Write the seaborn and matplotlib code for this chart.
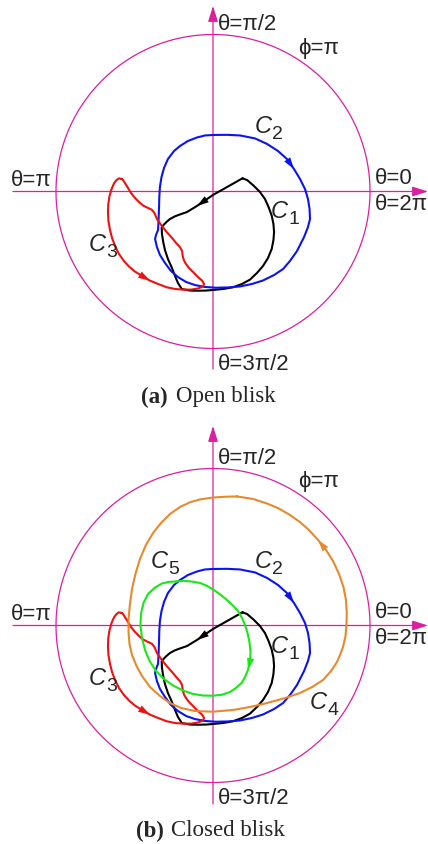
import numpy as np
import matplotlib
matplotlib.use("Agg")
import matplotlib.pyplot as plt
import seaborn as sns

sns.set_theme(style="white")
plt.rcParams["font.family"] = ["Liberation Sans", "DejaVu Sans"]

# Phase-plane trajectories, in units of the boundary circle radius (phi = pi),
# listed in the direction of travel.
c1_x = [0.188, 0.000, -0.102, -0.166, -0.210, -0.242, -0.274, -0.296, -0.315, -0.327, -0.325,
        -0.317, -0.306, -0.287, -0.264, -0.242, -0.223, -0.199, -0.146, -0.096, -0.045, 0.002,
        0.064, 0.127, 0.185, 0.236, 0.280, 0.318, 0.350, 0.374, 0.385, 0.389, 0.385, 0.374,
        0.354, 0.331, 0.299, 0.258, 0.217]
c1_y = [0.084, -0.022, -0.092, -0.131, -0.146, -0.158, -0.175, -0.194, -0.213, -0.229, -0.271,
        -0.322, -0.373, -0.430, -0.481, -0.538, -0.583, -0.621, -0.631, -0.632, -0.631, -0.627,
        -0.621, -0.610, -0.589, -0.561, -0.519, -0.475, -0.424, -0.366, -0.309, -0.258, -0.207,
        -0.154, -0.099, -0.048, -0.003, 0.038, 0.073]

c2_x = [0.000, 0.089, 0.172, 0.268, 0.344, 0.414, 0.471, 0.516, 0.554, 0.586, 0.605, 0.615,
        0.618, 0.605, 0.580, 0.535, 0.490, 0.446, 0.389, 0.318, 0.248, 0.172, 0.096, 0.019,
        -0.051, -0.115, -0.172, -0.223, -0.268, -0.306, -0.338, -0.357, -0.369, -0.363, -0.350,
        -0.347, -0.344, -0.342, -0.338, -0.328, -0.312, -0.287, -0.248, -0.210, -0.159, -0.102,
        -0.051]
c2_y = [0.360, 0.361, 0.357, 0.338, 0.303, 0.258, 0.207, 0.143, 0.080, 0.016, -0.048, -0.111,
        -0.175, -0.226, -0.290, -0.379, -0.443, -0.494, -0.532, -0.567, -0.589, -0.605, -0.611,
        -0.613, -0.608, -0.596, -0.576, -0.545, -0.506, -0.455, -0.404, -0.354, -0.303, -0.277,
        -0.245, -0.188, -0.111, -0.035, 0.029, 0.092, 0.150, 0.207, 0.258, 0.290, 0.322, 0.344,
        0.357]

c3_x = [-0.582, -0.599, -0.615, -0.631, -0.646, -0.659, -0.667, -0.669, -0.666, -0.656, -0.643,
        -0.624, -0.599, -0.567, -0.535, -0.497, -0.452, -0.401, -0.350, -0.295, -0.242, -0.191,
        -0.140, -0.096, -0.064, -0.057, -0.070, -0.096, -0.124, -0.153, -0.172, -0.185, -0.193,
        -0.197, -0.210, -0.232, -0.261, -0.295, -0.328, -0.357, -0.373, -0.390, -0.420, -0.446,
        -0.471, -0.497, -0.522, -0.541, -0.561, -0.573]
c3_y = [0.080, 0.084, 0.073, 0.051, 0.016, -0.029, -0.080, -0.131, -0.188, -0.245, -0.296,
        -0.347, -0.398, -0.443, -0.478, -0.510, -0.538, -0.568, -0.589, -0.610, -0.621, -0.625,
        -0.625, -0.618, -0.605, -0.589, -0.567, -0.545, -0.516, -0.487, -0.462, -0.439, -0.411,
        -0.379, -0.355, -0.331, -0.296, -0.258, -0.217, -0.175, -0.137, -0.116, -0.102, -0.089,
        -0.067, -0.041, -0.010, 0.022, 0.054, 0.073]

c4_x = [0.153, 0.076, 0.000, -0.083, -0.146, -0.210, -0.274, -0.331, -0.382, -0.427, -0.465,
        -0.494, -0.516, -0.529, -0.538, -0.538, -0.532, -0.516, -0.487, -0.452, -0.401, -0.338,
        -0.274, -0.204, -0.115, 0.000, 0.127, 0.236, 0.344, 0.459, 0.554, 0.631, 0.701, 0.752,
        0.790, 0.809, 0.828, 0.844, 0.850, 0.852, 0.847, 0.831, 0.803, 0.764, 0.720, 0.669,
        0.611, 0.554, 0.490, 0.420, 0.344, 0.255]
c4_y = [0.822, 0.820, 0.815, 0.803, 0.785, 0.755, 0.710, 0.653, 0.589, 0.513, 0.424, 0.328,
        0.232, 0.137, 0.041, -0.041, -0.118, -0.188, -0.258, -0.322, -0.392, -0.449, -0.494,
        -0.525, -0.545, -0.549, -0.538, -0.519, -0.494, -0.462, -0.430, -0.392, -0.347, -0.290,
        -0.232, -0.188, -0.137, -0.067, 0.003, 0.080, 0.162, 0.245, 0.328, 0.411, 0.481, 0.545,
        0.608, 0.659, 0.704, 0.745, 0.777, 0.806]

c5_x = [-0.236, -0.191, -0.134, -0.083, -0.038, 0.006, 0.051, 0.089, 0.127, 0.159, 0.185, 0.204,
        0.220, 0.232, 0.239, 0.236, 0.223, 0.204, 0.182, 0.146, 0.108, 0.057, 0.000, -0.064,
        -0.127, -0.191, -0.255, -0.312, -0.363, -0.404, -0.433, -0.452, -0.462, -0.459, -0.443,
        -0.414, -0.369, -0.325, -0.280]
c5_y = [0.280, 0.285, 0.280, 0.271, 0.252, 0.226, 0.194, 0.162, 0.127, 0.092, 0.048, 0.003,
        -0.048, -0.105, -0.169, -0.226, -0.283, -0.328, -0.366, -0.398, -0.424, -0.441, -0.447,
        -0.446, -0.436, -0.414, -0.382, -0.341, -0.290, -0.226, -0.156, -0.080, -0.003, 0.073,
        0.143, 0.201, 0.242, 0.268, 0.278]

# name -> (x, y, colour, index of the point the direction arrow points at)
curves = {
    "C1": (c1_x, c1_y, "black", 2),
    "C2": (c2_x, c2_y, "#0a14f0", 7),
    "C3": (c3_x, c3_y, "#f01010", 17),
    "C4": (c4_x, c4_y, "#e8892e", 45),
    "C5": (c5_x, c5_y, "#18e818", 16),
}
panels = [("(a)", "Open blisk", ["C1", "C2", "C3"]),
          ("(b)", "Closed blisk", ["C1", "C2", "C3", "C4", "C5"])]

MAGENTA = "#dc1ea0"
W, H = 428, 845
PX = 157.0  # pixels per unit radius
fig = plt.figure(figsize=(W / 100, H / 100), dpi=100)

# panel layout in pixels: (top, bottom, centre y)
frames = [(0, 420, 192.5), (420, 845, 626.5)]
CX = 213.0

label_pos = {
    0: {"C1": (273, 202), "C2": (257, 117), "C3": (91, 235)},
    1: {"C1": (273, 637), "C2": (257, 552), "C3": (91, 669), "C4": (312, 693), "C5": (153, 552)},
}

for k, ((tag, name, keys), (top, bot, cy)) in enumerate(zip(panels, frames)):
    ax = fig.add_axes([0, 1 - bot / H, 1, (bot - top) / H])
    ax.set_xlim((0 - CX) / PX, (W - CX) / PX)
    ax.set_ylim((cy - bot) / PX, (cy - top) / PX)
    ax.axis("off")

    def P(px, py):
        return (px - CX) / PX, (cy - py) / PX

    # boundary circle phi = pi
    t = np.linspace(0, 2 * np.pi, 400)
    ax.plot(np.cos(t), np.sin(t), color=MAGENTA, lw=0.9, zorder=1)

    # theta axes with arrowheads
    axis_arrow = dict(arrowstyle="-|>,head_length=0.95,head_width=0.3", color=MAGENTA,
                      lw=0.9, shrinkA=0, shrinkB=0, mutation_scale=10)
    ax.annotate("", xy=P(428, cy), xytext=P(13, cy), arrowprops=axis_arrow, zorder=1)
    ax.annotate("", xy=P(CX, top + 7), xytext=P(CX, top + 370 if k == 0 else top + 385),
                arrowprops=axis_arrow, zorder=1)

    for key in keys:
        xs, ys, col, ia = curves[key]
        sns.lineplot(x=list(xs) + [xs[0]], y=list(ys) + [ys[0]], sort=False, estimator=None,
                     color=col, lw=1.5, ax=ax, zorder=3)
        ax.annotate("", xy=(xs[ia], ys[ia]), xytext=(xs[ia - 1], ys[ia - 1]),
                    arrowprops=dict(arrowstyle="-|>,head_length=0.85,head_width=0.26", color=col,
                                    lw=0, shrinkA=0, shrinkB=0, mutation_scale=10), zorder=4)

    fs = 16
    off = 0 if k == 0 else 434
    ax.text(*P(218, 24 + off), "θ=π/2", fontsize=fs, ha="left", va="center")
    ax.text(*P(298, 48 + off), "ϕ=π", fontsize=fs, ha="left", va="center")
    ax.text(*P(11, 180 + off), "θ=π", fontsize=fs, ha="left", va="center")
    ax.text(*P(375, 179 + off), "θ=0", fontsize=fs, ha="left", va="center")
    ax.text(*P(375, 205 + off), "θ=2π", fontsize=fs, ha="left", va="center")
    ax.text(*P(218, 365 + off), "θ=3π/2", fontsize=fs, ha="left", va="center")

    for key, (lx, ly) in label_pos[k].items():
        ax.text(*P(lx - 2, ly - 2), "C", fontsize=17, style="italic", ha="left", va="top")
        ax.text(*P(lx + 15, ly + 9), key[1], fontsize=14, ha="left", va="top")

    cap_y = 397 if k == 0 else 831
    split = 168 if k == 0 else 164
    ax.text(*P(split, cap_y), tag, fontsize=16.5, family="Liberation Serif", weight="bold",
            ha="right", va="center")
    ax.text(*P(split + 8 if k == 0 else split + 7, cap_y), name, fontsize=16.5,
            family="Liberation Serif", ha="left", va="center")

fig.savefig("out.png", dpi=100)
